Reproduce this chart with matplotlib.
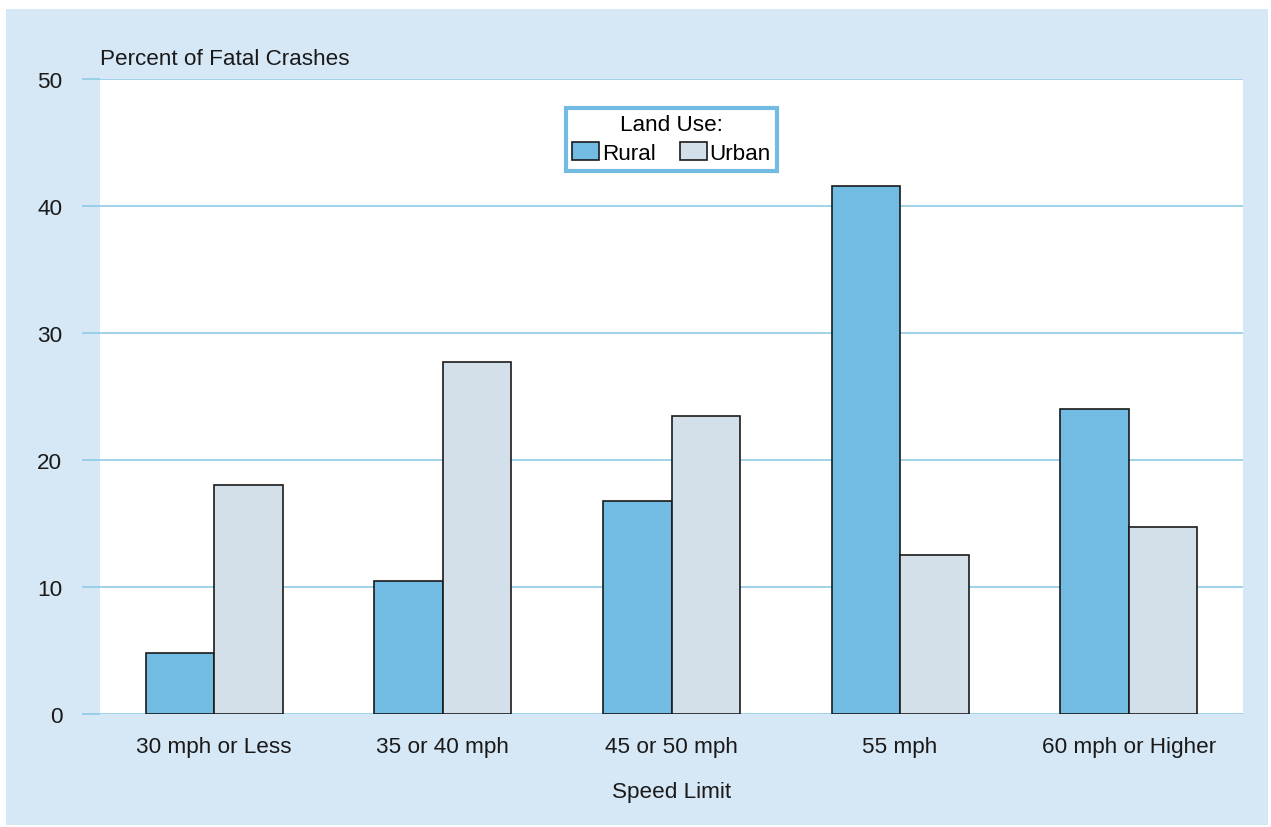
import matplotlib.pyplot as plt
import numpy as np
from matplotlib.patches import Rectangle

plt.rcParams['font.family'] = ['Liberation Sans', 'DejaVu Sans']

categories = ['30 mph or Less', '35 or 40 mph', '45 or 50 mph', '55 mph', '60 mph or Higher']
rural = [4.8, 10.5, 16.8, 41.6, 24.0]
urban = [18.0, 27.7, 23.5, 12.5, 14.7]

W, H = 1271, 828
fs = 16.2
fig = plt.figure(figsize=(W / 100, H / 100), dpi=100)
fig.patch.set_facecolor('white')

# light blue panel behind everything
fig.patches.append(Rectangle((6 / W, 2 / H), 1262 / W, 816 / H,
                             transform=fig.transFigure, facecolor='#d6e7f5',
                             edgecolor='none', zorder=-10))

ax = fig.add_axes([100 / W, (H - 715) / H, 1143 / W, 635 / H])
ax.set_facecolor('white')

x = np.arange(len(categories))
w = 0.3
ax.bar(x - w / 2, rural, w, color='#72bbe2', edgecolor='#1a1a1a', linewidth=1.2,
       label='Rural', zorder=3)
ax.bar(x + w / 2, urban, w, color='#d4e0e9', edgecolor='#1a1a1a', linewidth=1.2,
       label='Urban', zorder=3)

ax.set_xlim(-0.5, 4.5)
ax.set_ylim(0, 50)
ax.set_yticks(range(0, 51, 10))
ax.set_xticks(x)
ax.set_xticklabels(categories)
ax.yaxis.grid(True, color='#8fcbe8', linewidth=1.2, zorder=1)
ax.set_axisbelow(True)
for s in ax.spines.values():
    s.set_visible(False)

ax.tick_params(axis='y', length=13, width=1.2, color='#8fcbe8', labelsize=fs, pad=14)
ax.tick_params(axis='x', length=0, labelsize=fs, pad=16)
for t in ax.get_yticklabels():
    t.set_color('#1a1a1a')
for t in ax.get_xticklabels():
    t.set_color('#1a1a1a')

ax.set_xlabel('Speed Limit', fontsize=fs, color='#1a1a1a', labelpad=17)
ax.text(0, 1.032, 'Percent of Fatal Crashes', transform=ax.transAxes,
        fontsize=fs, color='#1a1a1a', ha='left', va='center')

leg = ax.legend(title='Land Use:', loc='upper center', bbox_to_anchor=(0.50, 0.955),
                ncol=2, fontsize=fs, title_fontsize=fs, frameon=True,
                fancybox=False, handlelength=1.2, handleheight=0.85,
                handletextpad=0.1, columnspacing=1.1, borderpad=0.3,
                labelspacing=0.3, borderaxespad=0)
leg.get_frame().set_edgecolor('#72bbe2')
leg.get_frame().set_linewidth(3)
leg.get_frame().set_alpha(1)

plt.savefig('out.png', dpi=100)
